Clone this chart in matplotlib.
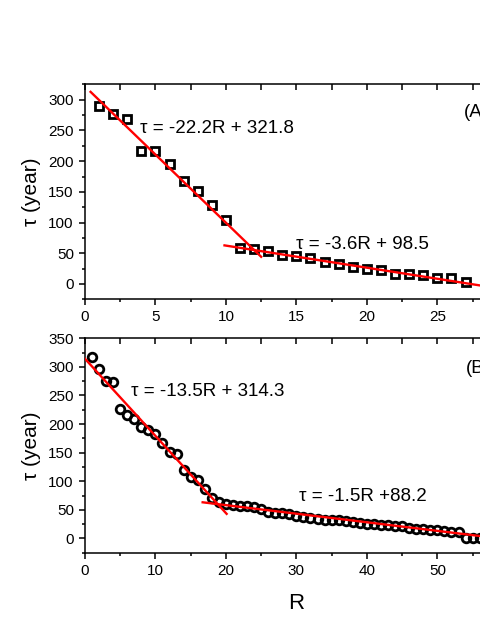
import matplotlib

matplotlib.use("Agg")
import matplotlib.pyplot as plt
from matplotlib.ticker import MultipleLocator

plt.rcParams["font.family"] = ["Liberation Sans", "DejaVu Sans"]

# panel A: squares
r_a = list(range(1, 28))
tau_a = [290, 277, 268, 217, 216, 195, 167, 152, 128, 104,
         59, 57, 54, 48, 46, 42, 36, 32, 28, 25,
         23, 17, 16, 14, 10, 9, 4]
fit_a1 = (-22.2, 321.8)
fit_a1_range = (0.4, 12.5)
fit_a2 = (-3.6, 98.5)
fit_a2_range = (9.9, 30.0)

# panel B: circles
r_b = list(range(1, 57))
tau_b = [317, 296, 276, 274, 226, 216, 209, 195, 189, 183,
         167, 152, 147, 119, 108, 103, 87, 71, 64, 60,
         58, 57, 56, 55, 52, 46, 45, 44, 42, 39,
         38, 36, 34, 33, 32, 32, 31, 28, 27, 25,
         25, 24, 23, 22, 21, 19, 17, 16, 15, 14,
         13, 12, 11, 1, 1, 0]
fit_b1 = (-13.5, 314.3)
fit_b1_range = (0.0, 20.1)
fit_b2 = (-1.5, 88.2)
fit_b2_range = (16.7, 60.0)


def draw_fit(ax, fit, x_range):
    slope, icpt = fit
    xs = list(x_range)
    ys = [slope * x + icpt for x in xs]
    ax.plot(xs, ys, color="red", lw=1.7, zorder=3)


def style_axis(ax, xmajor, xminor, ymajor, yminor):
    ax.xaxis.set_major_locator(MultipleLocator(xmajor))
    ax.xaxis.set_minor_locator(MultipleLocator(xminor))
    ax.yaxis.set_major_locator(MultipleLocator(ymajor))
    ax.yaxis.set_minor_locator(MultipleLocator(yminor))
    ax.tick_params(which="both", direction="out", top=False, right=False, labelsize=11, width=1.1)
    ax.tick_params(which="major", length=4.5)
    ax.tick_params(which="minor", length=2.5)
    for spine in ax.spines.values():
        spine.set_linewidth(1.1)
    # inward ticks along the top edge
    sec = ax.secondary_xaxis("top")
    sec.xaxis.set_major_locator(MultipleLocator(xminor))
    sec.tick_params(direction="in", length=4, width=1.1, labeltop=False)
    sec.spines["top"].set_visible(False)


fig = plt.figure(figsize=(4.8, 6.21), dpi=100)

ax_a = fig.add_axes([0.177, 0.518, 0.881, 0.346])
ax_a.plot(r_a, tau_a, ls="none", marker="s", ms=5.8, mfc="none", mec="black", mew=2.0, zorder=2)
draw_fit(ax_a, fit_a1, fit_a1_range)
draw_fit(ax_a, fit_a2, fit_a2_range)
ax_a.set_xlim(0, 30)
ax_a.set_ylim(-25, 325)
style_axis(ax_a, 5, 2.5, 50, 25)
ax_a.set_ylabel("τ (year)", fontsize=15, labelpad=5)
ax_a.text(3.9, 253, "τ = -22.2R + 321.8", fontsize=13.5, va="center")
ax_a.text(15.0, 65, "τ = -3.6R + 98.5", fontsize=13.5, va="center")
ax_a.text(26.9, 279, "(A)", fontsize=13.5, va="center")

ax_b = fig.add_axes([0.177, 0.110, 0.881, 0.3452])
ax_b.plot(r_b, tau_b, ls="none", marker="o", ms=6.2, mfc="none", mec="black", mew=2.0, zorder=2)
draw_fit(ax_b, fit_b1, fit_b1_range)
draw_fit(ax_b, fit_b2, fit_b2_range)
ax_b.set_xlim(0, 60)
ax_b.set_ylim(-25, 350)
style_axis(ax_b, 10, 5, 50, 25)
ax_b.set_ylabel("τ (year)", fontsize=15, labelpad=5)
ax_b.set_xlabel("R", fontsize=16, labelpad=11)
ax_b.text(6.6, 257, "τ = -13.5R + 314.3", fontsize=13.5, va="center")
ax_b.text(30.4, 73, "τ = -1.5R +88.2", fontsize=13.5, va="center")
ax_b.text(54.0, 298, "(B)", fontsize=13.5, va="center")

fig.savefig("out.png", dpi=100)
